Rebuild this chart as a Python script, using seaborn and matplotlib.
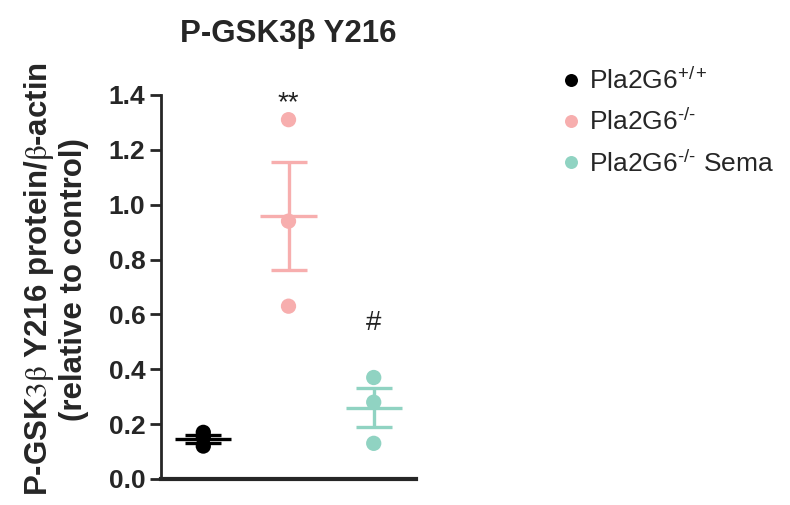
import pandas as pd
import matplotlib
matplotlib.use('Agg')
import matplotlib.pyplot as plt
import seaborn as sns

# values
groups = ['Pla2G6$^{\\mathregular{+/+}}$', 'Pla2G6$^{\\mathregular{\u2010/\u2010}}$', 'Pla2G6$^{\\mathregular{\u2010/\u2010}}$ Sema']
wt_vals = [0.17, 0.15, 0.12]
ko_vals = [1.31, 0.94, 0.63]
sema_vals = [0.37, 0.28, 0.13]
colors = ['#000000', '#F7AEAE', '#90D3C2']
y_ticks = [0.0, 0.2, 0.4, 0.6, 0.8, 1.0, 1.2, 1.4]
marks = ['', '**', '#']
mark_y = [None, 1.37, 0.57]

df = pd.DataFrame({
    'group': [groups[0]] * len(wt_vals) + [groups[1]] * len(ko_vals) + [groups[2]] * len(sema_vals),
    'value': wt_vals + ko_vals + sema_vals,
})

sns.set_style('white')
plt.rcParams['font.family'] = ['Liberation Sans', 'DejaVu Sans']
plt.rcParams['mathtext.fontset'] = 'stix'

fig = plt.figure(figsize=(7.9, 5.05), dpi=100)
ax = fig.add_axes([0.2034, 0.0515, 0.3236, 0.7604])

sns.stripplot(data=df, x='group', y='value', hue='group', order=groups,
              palette=dict(zip(groups, colors)), jitter=False, size=11,
              linewidth=0, ax=ax, legend=True, zorder=3)

# mean +/- SEM
stats = df.groupby('group', sort=False)['value'].agg(['mean', 'sem']).reindex(groups)
for i, g in enumerate(groups):
    m, s = stats.loc[g, 'mean'], stats.loc[g, 'sem']
    ax.hlines(m, i - 0.33, i + 0.33, color=colors[i], lw=2.4, zorder=4)
    ax.errorbar(i, m, yerr=s, color=colors[i], lw=2.4, capsize=13, capthick=2.4, zorder=4)
    if marks[i]:
        ax.text(i, mark_y[i], marks[i], ha='center', va='center', fontsize=20, color='#222222')

ax.set_xlim(-0.5, 2.5)
ax.set_ylim(0, 1.4)
ax.set_yticks(y_ticks)
ax.set_yticklabels([f'{t:.1f}' for t in y_ticks], fontsize=19, fontweight='bold')
ax.set_xticks([])
ax.set_xlabel('')
ax.set_ylabel('P-GSK$\\mathrm{3\\beta}$ Y216 protein/$\\mathrm{\\beta}$-actin\n(relative to control)',
              fontsize=22.5, fontweight='bold', labelpad=14, linespacing=1.15)
ax.yaxis.label.set_y(0.52)
ax.tick_params(axis='y', direction='out', length=8, width=2, left=True, pad=3)
sns.despine(ax=ax)
ax.spines['left'].set_linewidth(2)
ax.spines['bottom'].set_linewidth(3)
ax.set_title('P-GSK3β Y216', fontsize=22.5, fontweight='bold', pad=38)

sns.move_legend(ax, 'upper left', bbox_to_anchor=(1.45, 1.135), frameon=False,
                title=None, fontsize=19, handletextpad=0.1, labelspacing=0.55,
                markerscale=0.85, handlelength=1.2)

fig.savefig('out.png', dpi=100)
